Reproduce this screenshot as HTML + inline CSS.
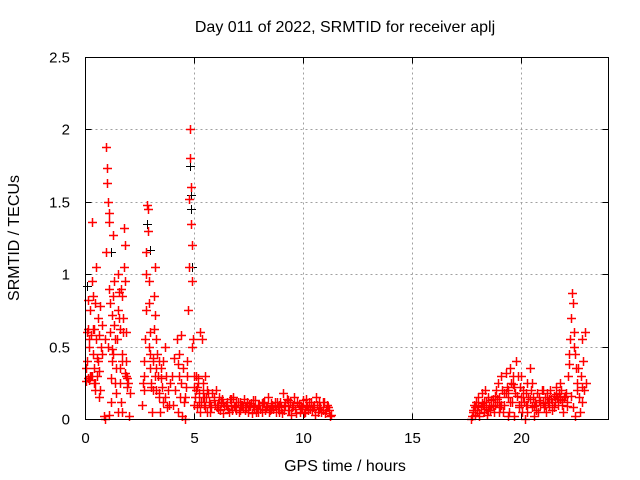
<!DOCTYPE html>
<html><head><meta charset="utf-8"><style>
html,body{margin:0;padding:0;background:#fff;}
svg{display:block;font-family:"Liberation Sans",sans-serif;}
</style></head><body>
<svg id="chart" width="640" height="480" xmlns="http://www.w3.org/2000/svg">
<rect x="0" y="0" width="640" height="480" fill="#fff"/>
<text x="345" y="32" text-anchor="middle" font-size="16">Day 011 of 2022, SRMTID for receiver aplj</text>
<text x="345" y="471" text-anchor="middle" font-size="16">GPS time / hours</text>
<text x="19" y="238" text-anchor="middle" font-size="16" transform="rotate(-90 19 238)">SRMTID / TECUs</text>
<g id="grid"></g>
<g id="ticks"></g>
<g id="blackpts"></g>
<g id="redpts"></g>
<rect x="85.5" y="57.5" width="523" height="362" fill="none" stroke="#000" stroke-width="1"/>
</svg>
<script>
const xTicks=[0,5,10,15,20];
const yTicks=[0,0.5,1,1.5,2,2.5];
const yTickLabels=["0","0.5","1","1.5","2","2.5"];
const blackTimes=[0.1,1.2,1.85,2.85,3.0,4.82,4.85,4.9,4.88];
const blackValues=[0.92,1.15,1.2,1.35,1.17,1.75,1.55,1.05,1.45];
const redTimes=[
0.05,0.1,0.12,0.15,0.2,0.22,0.25,0.3,0.33,0.35,0.38,0.4,0.42,0.45,0.5,0.52,0.55,0.58,0.6,0.65,0.7,0.75,0.8,0.85,0.9,0.92,0.95,0.98,1.0,1.02,1.05,1.08,1.1,1.12,1.15,1.18,1.2,1.22,1.25,1.28,1.3,1.33,1.35,1.38,1.4,1.45,1.5,1.52,1.55,1.6,1.62,1.65,1.7,1.72,1.75,1.78,1.8,1.82,1.85,1.9,1.92,1.95,2.0,2.05,1.6,0.7,0.2,0.3,0.4,1.1,1.5,0.15,0.45,0.65,1.3,1.7,1.88,
0.08,0.18,0.28,0.36,0.48,0.62,0.78,1.04,1.16,1.26,1.42,1.58,1.68,1.76,1.84,1.96,0.06,0.26,0.55,1.36,1.66,1.9,
2.6,2.65,2.7,2.75,2.78,2.8,2.82,2.85,2.88,2.9,2.93,2.95,2.98,3.0,3.05,3.08,3.1,3.12,3.15,3.18,3.2,3.22,3.25,3.3,3.35,3.4,3.45,3.5,3.55,3.6,3.65,3.7,3.75,3.8,3.85,3.9,2.7,3.0,3.2,3.4,
2.72,2.92,3.02,3.14,3.28,3.38,3.48,3.58,3.68,3.28,
4.0,4.05,4.1,4.15,4.2,4.25,4.3,4.35,4.4,4.45,4.5,4.55,4.6,4.65,4.7,4.72,4.75,4.78,4.8,4.82,4.85,4.88,4.9,4.92,4.95,5.0,5.05,5.1,5.15,5.2,5.25,5.3,5.35,5.4,5.45,5.5,5.55,5.6,5.65,4.3,4.9,5.0,5.2,5.4,
4.12,4.28,4.42,4.58,4.68,5.02,5.12,5.22,5.32,5.42,5.52,5.62,5.08,5.28,5.48,
5.7,5.8,5.9,6.0,6.1,6.2,6.3,6.4,6.5,6.6,6.7,6.8,6.9,7.0,7.1,7.2,7.3,7.4,7.5,7.6,7.7,7.8,7.9,8.0,8.1,8.2,8.3,8.4,8.5,8.6,8.7,8.8,8.9,9.0,9.1,9.2,9.3,9.4,9.5,9.6,9.7,9.8,9.9,10.0,10.1,10.2,10.3,10.4,10.5,10.6,10.7,10.8,10.9,11.0,11.1,11.2,11.3,
5.75,5.85,5.95,6.05,6.15,6.25,6.35,6.45,6.55,6.65,6.75,6.85,6.95,7.05,7.15,7.25,7.35,7.45,7.55,7.65,7.75,7.85,7.95,8.05,8.15,8.25,8.35,8.45,8.55,8.65,8.75,8.85,8.95,9.05,9.15,9.25,9.35,9.45,9.55,9.65,9.75,9.85,9.95,10.05,10.15,10.25,10.35,10.45,10.55,10.65,10.75,10.85,10.95,11.05,11.15,11.25,
5.72,5.92,6.12,6.32,6.52,6.72,6.92,7.12,7.32,7.52,7.72,7.92,8.12,8.32,8.52,8.72,8.92,9.12,9.32,9.52,9.72,9.92,10.12,10.32,10.52,10.72,10.92,11.12,
17.7,17.75,17.8,17.85,17.9,17.95,18.0,18.05,18.1,18.15,18.2,18.25,18.3,18.35,18.4,18.45,18.5,18.55,18.6,18.65,18.7,18.75,18.8,18.85,18.9,18.95,19.0,19.05,19.1,19.15,19.2,19.25,19.3,19.35,19.4,19.45,19.5,19.55,19.6,19.65,19.7,19.75,19.8,19.85,19.9,19.95,20.0,20.05,20.1,20.15,20.2,20.25,20.3,20.35,20.4,20.45,20.5,20.55,20.6,20.65,20.7,20.75,20.8,20.85,20.9,20.95,21.0,21.05,21.1,21.15,21.2,21.25,21.3,21.35,21.4,21.45,21.5,21.55,21.6,21.65,21.7,21.75,21.8,21.85,21.9,21.95,22.0,22.05,22.1,22.15,22.2,22.25,22.3,22.35,22.4,22.45,22.5,22.55,22.6,22.65,22.7,22.75,22.8,22.85,22.9,22.95,22.4,22.5,19.0,19.4,20.0,20.3,21.0,
17.9,18.1,18.3,18.5,18.7,18.9,19.1,19.3,19.5,19.7,19.9,20.1,20.3,20.5,20.7,20.9,21.1,21.3,21.5,21.7,21.9,22.1,22.3,22.6,22.8,23.0,
17.82,18.02,18.22,18.42,18.62,18.82,19.02,19.22,19.42,19.62,19.82,20.02,20.22,20.42,20.62,20.82,21.02,21.22,21.42,21.62,21.82,22.02,22.22,22.42,22.62,22.82];
const redValues=[
0.35,0.6,0.82,0.28,0.5,0.75,0.3,0.95,1.36,0.85,0.45,0.25,0.62,0.8,1.05,0.55,0.3,0.7,0.4,0.15,0.2,0.5,0.45,0.02,0.0,0.55,1.15,1.88,1.73,1.63,1.5,1.42,1.36,0.9,0.6,0.28,0.12,0.4,0.72,0.85,1.27,0.95,0.65,0.25,0.18,0.55,0.75,1.0,0.88,0.62,0.35,0.12,0.05,0.4,0.7,1.05,1.32,1.2,0.95,0.6,0.28,0.22,0.02,0.18,0.25,0.78,0.27,0.3,0.35,0.03,0.05,0.62,0.2,0.58,0.45,0.85,0.3,
0.4,0.55,0.3,0.62,0.25,0.33,0.65,0.5,0.8,0.48,0.35,0.7,0.45,0.6,0.32,0.25,0.26,0.58,0.42,0.55,0.9,0.4,
0.1,0.25,0.4,0.55,0.75,1.0,1.15,1.48,1.45,1.3,0.95,0.8,0.6,0.35,0.22,0.05,0.2,0.4,0.62,0.85,1.05,0.72,0.55,0.45,0.3,0.18,0.05,0.35,0.22,0.12,0.5,0.3,0.08,0.2,0.1,0.25,0.2,0.45,0.3,0.4,
0.3,0.5,0.25,0.42,0.35,0.15,0.28,0.4,0.15,0.2,
0.3,0.1,0.42,0.2,0.55,0.05,0.3,0.15,0.58,0.02,0.35,0.12,0.0,0.22,0.4,0.75,1.05,1.52,2.0,1.8,1.6,1.35,1.2,0.95,0.55,0.3,0.15,0.2,0.08,0.25,0.12,0.6,0.55,0.2,0.1,0.3,0.15,0.05,0.18,0.45,0.5,0.22,0.28,0.15,
0.2,0.38,0.25,0.15,0.3,0.1,0.22,0.18,0.12,0.25,0.08,0.2,0.3,0.05,0.15,
0.12,0.08,0.15,0.2,0.1,0.06,0.14,0.09,0.12,0.05,0.1,0.15,0.08,0.12,0.06,0.1,0.14,0.08,0.05,0.11,0.09,0.13,0.07,0.1,0.05,0.12,0.08,0.15,0.06,0.1,0.09,0.12,0.05,0.08,0.18,0.1,0.06,0.12,0.08,0.15,0.04,0.1,0.07,0.13,0.05,0.09,0.12,0.06,0.1,0.15,0.05,0.08,0.12,0.04,0.1,0.06,0.03,
0.05,0.18,0.1,0.08,0.15,0.12,0.04,0.1,0.07,0.14,0.06,0.09,0.12,0.05,0.1,0.08,0.06,0.12,0.09,0.04,0.08,0.05,0.1,0.07,0.12,0.06,0.09,0.05,0.11,0.07,0.05,0.08,0.12,0.04,0.09,0.14,0.06,0.03,0.1,0.07,0.12,0.05,0.08,0.04,0.1,0.06,0.12,0.08,0.03,0.1,0.07,0.05,0.12,0.06,0.08,0.02,
0.1,0.13,0.07,0.11,0.09,0.14,0.06,0.12,0.08,0.1,0.13,0.05,0.11,0.09,0.07,0.12,0.1,0.06,0.13,0.08,0.11,0.09,0.14,0.07,0.1,0.12,0.06,0.08,
0.0,0.02,0.05,0.1,0.03,0.12,0.06,0.15,0.02,0.08,0.18,0.1,0.05,0.2,0.12,0.03,0.15,0.08,0.06,0.1,0.14,0.05,0.1,0.2,0.12,0.25,0.15,0.08,0.3,0.2,0.05,0.1,0.32,0.22,0.15,0.05,0.35,0.25,0.12,0.3,0.02,0.18,0.4,0.3,0.1,0.22,0.15,0.05,0.2,0.12,0.0,0.1,0.25,0.15,0.35,0.2,0.08,0.15,0.02,0.12,0.1,0.18,0.05,0.15,0.1,0.2,0.12,0.08,0.15,0.05,0.18,0.12,0.1,0.2,0.14,0.06,0.16,0.12,0.22,0.15,0.1,0.18,0.25,0.2,0.13,0.05,0.15,0.18,0.12,0.3,0.45,0.55,0.7,0.87,0.8,0.6,0.45,0.35,0.25,0.15,0.05,0.3,0.55,0.4,0.2,0.6,0.08,0.02,0.05,0.02,0.3,0.05,0.2,
0.08,0.04,0.12,0.06,0.09,0.14,0.1,0.18,0.12,0.22,0.08,0.15,0.1,0.25,0.06,0.12,0.1,0.14,0.08,0.12,0.1,0.09,0.16,0.2,0.12,0.25,
0.06,0.09,0.11,0.07,0.13,0.16,0.12,0.18,0.2,0.24,0.16,0.12,0.18,0.14,0.09,0.13,0.11,0.15,0.12,0.17,0.14,0.16,0.38,0.5,0.35,0.22];
const X0=85.5,X1=608.5,Y0=419.5,Y1=57.5,XMAX=24,YMAX=2.5;
function xs(t){return X0+t/XMAX*(X1-X0);}
function ys(v){return Y0-v/YMAX*(Y0-Y1);}
const NS="http://www.w3.org/2000/svg";
const grid=document.getElementById('grid'),ticks=document.getElementById('ticks');
function mk(tag,attrs,parent){const e=document.createElementNS(NS,tag);for(const k in attrs)e.setAttribute(k,attrs[k]);parent.appendChild(e);return e;}
xTicks.forEach((t,i)=>{
  const x=Math.round(xs(t)-0.5)+0.5;
  if(t>0){const g=mk('line',{x1:x,y1:Y0,x2:x,y2:Y1,stroke:'#a0a0a0','stroke-dasharray':'2,3'},grid);
  
  }
  const a=mk('path',{d:`M${x},${Y0}v-6M${x},${Y1}v6`,stroke:'#000'},ticks);
  
  
  const l=mk('text',{x:x,y:443,'text-anchor':'middle','font-size':'15'},ticks);
  l.textContent=String(t);
  
  
});
yTicks.forEach((v,i)=>{
  const y=Math.round(ys(v)-0.5)+0.5;
  if(v>0&&v<YMAX){const g=mk('line',{x1:X0,y1:y,x2:X1,y2:y,stroke:'#a0a0a0','stroke-dasharray':'2,3'},grid);
  
  }
  const a=mk('path',{d:`M${X0},${y}h6M${X1},${y}h-6`,stroke:'#000'},ticks);
  
  
  const l=mk('text',{x:70,y:y+5,'text-anchor':'end','font-size':'15'},ticks);
  l.textContent=yTickLabels[i];
  
  
});
function drawPts(times,values,color,parent,w){
  let d='';
  for(let i=0;i<times.length;i++){
    const x=Math.round(xs(times[i])-0.5)+0.5,y=Math.round(ys(values[i])-0.5)+0.5;
    d+=`M${x-4.5},${y}h9M${x},${y-4.5}v9`;
  }
  const p=mk('path',{d:d,stroke:color,'stroke-width':w,fill:'none'},parent);
  
  
}
drawPts(blackTimes,blackValues,'#000',document.getElementById('blackpts'),'1');
drawPts(redTimes,redValues,'#ff0000',document.getElementById('redpts'),'1.5');
</script>
</body></html>
